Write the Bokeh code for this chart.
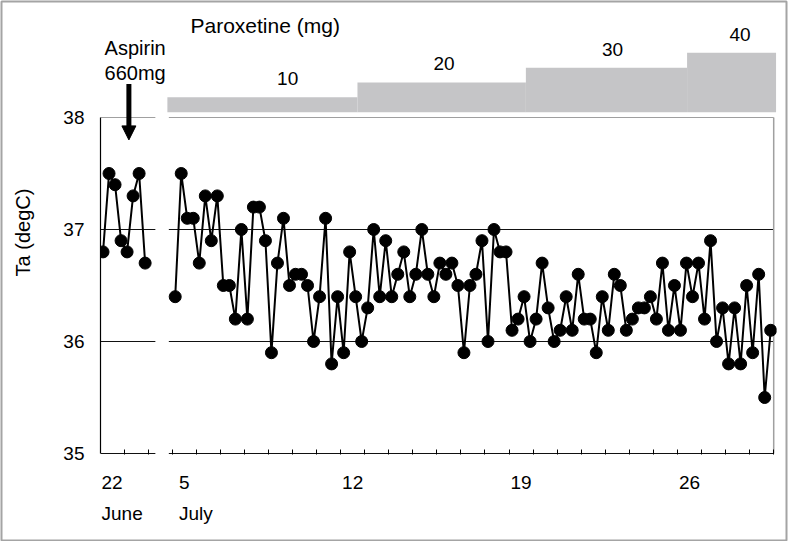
from bokeh.plotting import figure
from bokeh.models import Range1d, LinearAxis, FixedTicker, Arrow, NormalHead
from bokeh.embed import file_html
from bokeh.resources import INLINE
from bokeh.core.properties import value

# ---------------- data ----------------
june_days = [22, 23]
june_temp = [36.8, 37.5, 37.4, 36.9, 36.8, 37.3, 37.5, 36.7]
july_first_day = 5
july_temp = [
    36.4, 37.5, 37.1, 37.1, 36.7, 37.3, 36.9, 37.3, 36.5, 36.5,
    36.2, 37.0, 36.2, 37.2, 37.2, 36.9, 35.9, 36.7, 37.1, 36.5,
    36.6, 36.6, 36.5, 36.0, 36.4, 37.1, 35.8, 36.4, 35.9, 36.8,
    36.4, 36.0, 36.3, 37.0, 36.4, 36.9, 36.4, 36.6, 36.8, 36.4,
    36.6, 37.0, 36.6, 36.4, 36.7, 36.6, 36.7, 36.5, 35.9, 36.5,
    36.6, 36.9, 36.0, 37.0, 36.8, 36.8, 36.1, 36.2, 36.4, 36.0,
    36.2, 36.7, 36.3, 36.0, 36.1, 36.4, 36.1, 36.6, 36.2, 36.2,
    35.9, 36.4, 36.1, 36.6, 36.5, 36.1, 36.2, 36.3, 36.3, 36.4,
    36.2, 36.7, 36.1, 36.5, 36.1, 36.7, 36.4, 36.7, 36.2, 36.9,
    36.0, 36.3, 35.8, 36.3, 35.8, 36.5, 35.9, 36.6, 35.5, 36.1,
]
readings_per_day = 4
july_tick_days = [5, 12, 19, 26]
temp_ticks = [35, 36, 37, 38]
grid_temps = [36, 37]

dose_mg = [10, 20, 30, 40]
dose_start_day = [4.3, 12.2, 19.2, 25.9]
dose_end_day = [12.2, 19.2, 25.9, 29.6]
dose_label_day = [9.3, 15.8, 22.8, 28.1]
aspirin_day = 22.7  # June, continuous day
aspirin_text = ["Aspirin", "660mg"]

# ---------------- layout constants (page px) ----------------
JUNE_SHIFT = 20          # June day d is drawn at x = d - JUNE_SHIFT
W, H = 788, 541
PX_PER_DAY = 24.06
PX_PER_DEG = 112.0
PX_PER_MG = 1.485
FRAME_L, FRAME_R, FRAME_T, FRAME_B = 100, 776, 10, 454
X_REF_PX, X_REF = 171.7, 4.5      # px of x = 4.5
Y35_PX = 453.0                    # px of 35 degC
MG0_PX = 111.7                    # px of 0 mg
TEXT_LIFT_PX = 7.0

x0 = X_REF - (X_REF_PX - FRAME_L) / PX_PER_DAY
x1 = X_REF + (FRAME_R - X_REF_PX) / PX_PER_DAY
y0 = 35 - (FRAME_B - Y35_PX) / PX_PER_DEG
y1 = 35 + (Y35_PX - FRAME_T) / PX_PER_DEG
d0 = -(FRAME_B - MG0_PX) / PX_PER_MG
d1 = (MG0_PX - FRAME_T) / PX_PER_MG


def px_to_x(px):
    return X_REF + (px - X_REF_PX) / PX_PER_DAY


def px_to_y(py):
    return 35 + (Y35_PX - py) / PX_PER_DEG


FONT = "Liberation Sans"

p = figure(width=W, height=H, output_backend="svg", toolbar_location=None,
           x_range=Range1d(x0, x1), y_range=Range1d(y0, y1),
           min_border_left=FRAME_L, min_border_right=W - FRAME_R,
           min_border_top=FRAME_T, min_border_bottom=H - FRAME_B)
p.extra_y_ranges = {"dose": Range1d(d0, d1)}
p.outline_line_color = None
p.xgrid.visible = False
p.ygrid.visible = False
p.background_fill_color = "white"
p.border_fill_color = "white"

# outer page border (drawn over everything, outside the frame)
p.quad(left=[px_to_x(1)], right=[px_to_x(786)], top=[px_to_y(1)], bottom=[px_to_y(540)],
       fill_color=None, line_color="#a4a4a4", line_width=2, level="overlay")

# ---------------- x positions of readings ----------------
def reading_x(first_day, n):
    return [first_day - 0.5 + (i + 0.5) / readings_per_day for i in range(n)]

june_x = [x - JUNE_SHIFT for x in reading_x(june_days[0], len(june_temp))]
july_x = reading_x(july_first_day, len(july_temp))

# panel extents
june_panel = (x0, june_days[-1] + 0.8 - JUNE_SHIFT)
july_panel = (july_first_day - 0.64, july_first_day - 0.5 + len(july_temp) / readings_per_day)
panels = [june_panel, july_panel]

# baseline and grid lines (black)
sx0, sx1, sy = [], [], []
for a, b in panels:
    for t in [temp_ticks[0]] + grid_temps:
        sx0.append(a); sx1.append(b); sy.append(t)
p.segment(x0=sx0, y0=sy, x1=sx1, y1=sy, line_color="#111111", line_width=1.2)
# top frame lines and right edge (gray)
p.segment(x0=[a for a, b in panels], y0=[temp_ticks[-1]] * 2,
          x1=[b for a, b in panels], y1=[temp_ticks[-1]] * 2,
          line_color="#a0a0a0", line_width=1.2)
p.segment(x0=[july_panel[1]], y0=[temp_ticks[0]], x1=[july_panel[1]], y1=[temp_ticks[-1]],
          line_color="#a0a0a0", line_width=1.5)

# dose bar
lift_mg = TEXT_LIFT_PX / PX_PER_MG
lift_deg = TEXT_LIFT_PX / PX_PER_DEG
p.quad(left=dose_start_day, right=dose_end_day, bottom=[0] * 4, top=dose_mg,
       fill_color="#c5c5c7", line_color=None, y_range_name="dose")
p.text(x=dose_label_day, y=[d + 7.8 + lift_mg for d in dose_mg], text=[str(d) for d in dose_mg],
       text_font=value(FONT), text_font_size="19px", text_align="center",
       text_baseline="alphabetic", text_color="black", y_range_name="dose")
p.text(x=[5.26], y=[53.7 + lift_mg], text=["Paroxetine (mg)"], text_font=value(FONT),
       text_font_size="21px", text_align="left", text_baseline="alphabetic",
       text_color="black", y_range_name="dose")

# aspirin arrow + text
ax = aspirin_day - JUNE_SHIFT
p.add_layout(Arrow(end=NormalHead(size=14, fill_color="black", line_color="black"),
                   x_start=ax, y_start=38.30, x_end=ax, y_end=37.80,
                   line_width=5, line_color="black"))
p.text(x=[ax - 1.01, ax - 1.01], y=[38.554 + lift_deg, 38.339 + lift_deg], text=aspirin_text,
       text_font=value(FONT), text_font_size="20px", text_align="left",
       text_baseline="alphabetic", text_color="black")

# data
for xs, ys in [(june_x, june_temp), (july_x, july_temp)]:
    p.line(xs, ys, line_color="black", line_width=2)
    p.scatter(xs, ys, size=12, marker="circle", fill_color="black", line_color="black")

# ---------------- axes ----------------
ya = p.yaxis[0]
ya.ticker = FixedTicker(ticks=temp_ticks)
ya.bounds = (temp_ticks[0], temp_ticks[-1])
ya.axis_line_color = "black"
ya.axis_line_width = 1.2
ya.major_tick_in = 0
ya.major_tick_out = 0
ya.minor_tick_line_color = None
ya.major_label_standoff = 16
ya.major_label_text_font = FONT
ya.major_label_text_font_size = "19px"
ya.major_label_text_color = "black"
ya.axis_label = "Ta (degC)"
ya.axis_label_text_font = FONT
ya.axis_label_text_font_size = "20px"
ya.axis_label_text_font_style = "normal"
ya.axis_label_text_color = "black"
ya.axis_label_standoff = 26

day_ticks = [d - JUNE_SHIFT for d in june_days[:1]] + july_tick_days
minor = [d + 0.5 - JUNE_SHIFT for d in june_days] + \
        [july_first_day - 0.5 + k for k in range(len(july_temp) // readings_per_day + 1)]
xa = p.xaxis[0]
xa.ticker = FixedTicker(ticks=day_ticks, minor_ticks=minor)
xa.major_label_overrides = {june_days[0] - JUNE_SHIFT: str(june_days[0])}
xa.axis_line_color = None
xa.major_tick_in = 0
xa.major_tick_out = 0
xa.minor_tick_in = 5
xa.minor_tick_out = 0
xa.minor_tick_line_color = "black"
xa.minor_tick_line_width = 1
xa.major_label_standoff = 21
xa.major_label_text_font = FONT
xa.major_label_text_font_size = "19px"
xa.major_label_text_color = "black"

month_ticks = [june_days[0] - JUNE_SHIFT + 0.42, july_first_day + 0.48]
ma = LinearAxis(ticker=FixedTicker(ticks=month_ticks),
                major_label_overrides={month_ticks[0]: "June", month_ticks[1]: "July"})
ma.axis_line_color = None
ma.major_tick_line_color = None
ma.minor_tick_line_color = None
ma.major_label_standoff = 5
ma.major_label_text_font = FONT
ma.major_label_text_font_size = "19px"
ma.major_label_text_color = "black"
p.add_layout(ma, "below")

open("out.html", "w").write(file_html(p, INLINE))
